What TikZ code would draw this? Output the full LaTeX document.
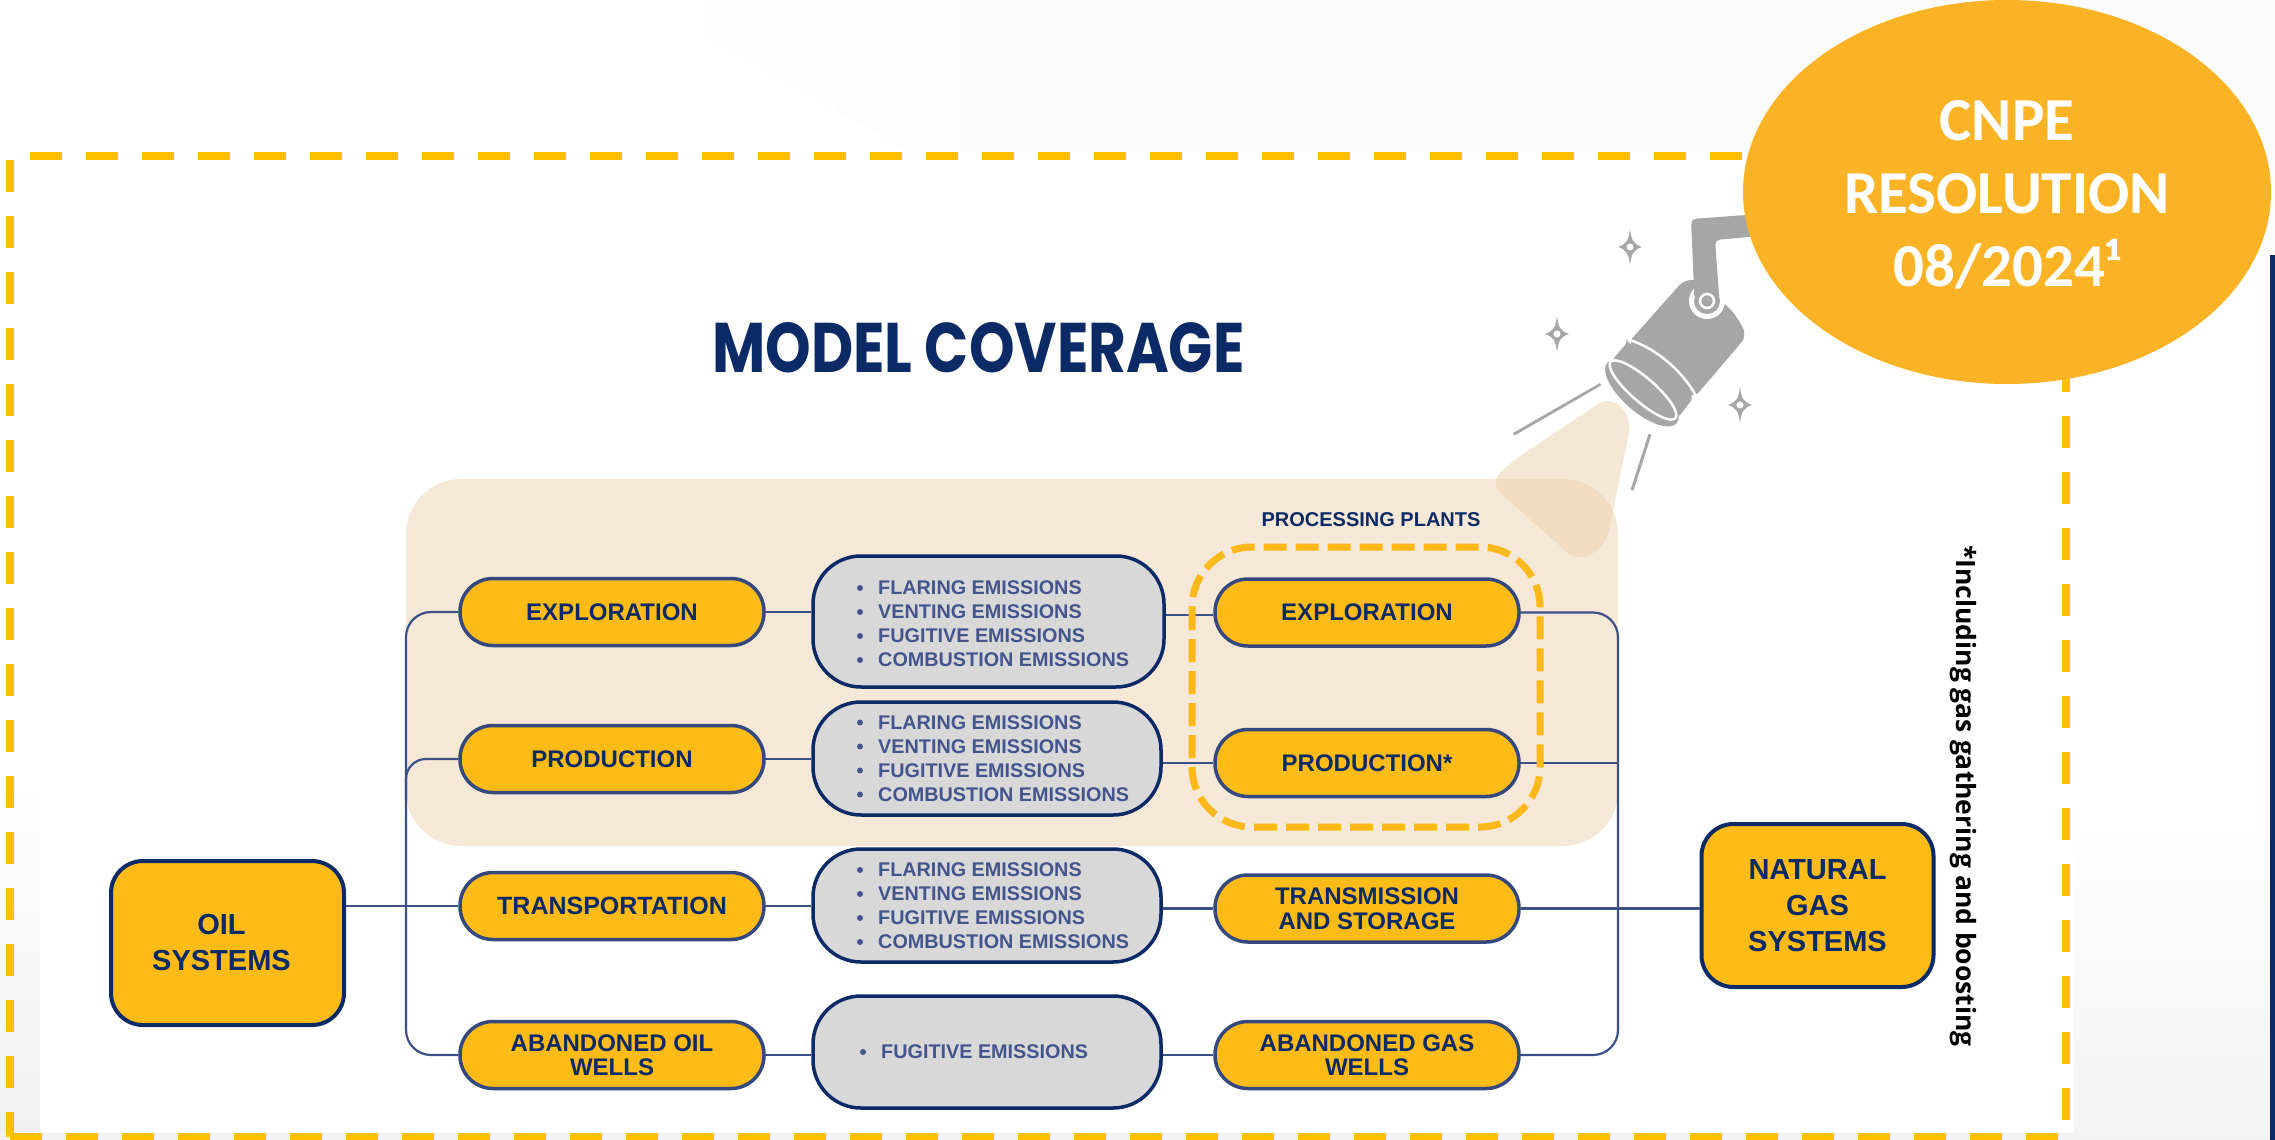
\documentclass[tikz,border=0pt]{standalone}
\usepackage{fontspec}
\usepackage{graphicx}
\usetikzlibrary{shapes.geometric,calc}
\setmainfont{Liberation Sans}
\newfontfamily\calib{Carlito}
\newfontfamily\popp{Poppins}
\newfontfamily\opens{Open Sans}
\definecolor{navy}{HTML}{0B2A66}
\definecolor{pilledge}{HTML}{35487E}
\definecolor{pillfill}{HTML}{FDBB17}
\definecolor{wire}{HTML}{3A5087}
\definecolor{frameyellow}{HTML}{FFC000}
\definecolor{plantyellow}{HTML}{FDB91C}
\definecolor{orangefill}{HTML}{FBB326}
\definecolor{tanpanel}{HTML}{F6E8D6}
\definecolor{boxgrey}{HTML}{D8D8D8}
\definecolor{emistext}{HTML}{43558C}
\definecolor{lampgrey}{HTML}{A6A6A6}
\definecolor{beamtone}{HTML}{EDD1AD}
\tikzset{
  x=1pt,y=-1pt,
  pillbox/.style={draw=pilledge,line width=3.5pt,fill=pillfill,rounded corners=33pt,minimum width=304pt,minimum height=67pt,inner sep=0pt,align=center,text=navy,font=\fontsize{24}{24.5}\selectfont\bfseries},
  sysbox/.style={draw=navy,line width=4pt,fill=pillfill,rounded corners=32pt,inner sep=0pt,align=center,text=navy,font=\fontsize{29}{36}\selectfont\bfseries},
  greybox/.style={draw=navy,line width=3.5pt,fill=boxgrey,rounded corners=48pt,inner sep=0pt},
  emis/.style={anchor=west,inner sep=0pt,text=emistext,font=\fontsize{19.8}{19.8}\selectfont\bfseries},
  bul/.style={circle,fill=emistext,inner sep=0pt,minimum size=6pt},
  wireline/.style={draw=wire,line width=2.2pt},
  framedash/.style={draw=frameyellow,line width=8pt,dash pattern=on 32pt off 24pt},
  lamp/.style={fill=lampgrey,draw=none},
}
\newcommand{\sparkle}[3]{%
  \fill[lampgrey] (#1,#2-18) .. controls (#1+1.5,#2-7) and (#1+3,#2-3) .. (#1+12,#2)
    .. controls (#1+3,#2+3) and (#1+1.5,#2+7) .. (#1,#2+18)
    .. controls (#1-1.5,#2+7) and (#1-3,#2+3) .. (#1-12,#2)
    .. controls (#1-3,#2-3) and (#1-1.5,#2-7) .. (#1,#2-18) -- cycle;
  \node[circle,fill=white,inner sep=0pt,minimum size=7pt] (#3) at (#1,#2) {};
}
\begin{document}
\begin{tikzpicture}
\useasboundingbox (0,0) rectangle (2275,1140);
% background
\fill[white] (0,0) rectangle (2275,1140);
\shade[left color=white,right color=white!98.5!black] (640,0) -- (1000,0) -- (1140,152) -- (910,152) -- cycle;
\fill[white!98.5!black] (1000,0) -- (1800,0) -- (1800,152) -- (1140,152) -- cycle;
\fill[white!99!black] (1800,0) rectangle (2275,255);
\shade[top color=white,bottom color=white!95!black] (2074,820) rectangle (2270,1140);
\shade[top color=white,bottom color=white!94!black] (0,780) rectangle (40,1140);
\fill[white!95!black] (0,1133) rectangle (2275,1140);
% navy edge
\fill[navy] (2270,255) rectangle (2275,1140);
% outer dashed frame
\coordinate (fTL) at (30,156);
\coordinate (fTR) at (1770,156);
\coordinate (fLT) at (10,160);
\coordinate (fLB) at (10,1137);
\coordinate (fBL) at (10,1137);
\coordinate (fBR) at (2060,1137);
\coordinate (fRT) at (2066,192);
\coordinate (fRB) at (2066,1128);
\draw[framedash] (fTL) -- (fTR);
\draw[framedash] (fLT) -- (fLB);
\draw[framedash] (fBL) -- (fBR);
\draw[framedash] (fRT) -- (fRB);
% tan panel
\fill[tanpanel,rounded corners=55pt] (406,479) rectangle (1618,846);
% beam
\fill[beamtone,fill opacity=.5,rounded corners=14pt] (1610,396) -- (1632,418) -- (1606,545) -- (1578,562) -- (1490,484) -- (1508,464) -- cycle;
% nodes
\node[sysbox,minimum width=233pt,minimum height=164pt] (oil) at (227.5,943) {\hspace*{-12pt}OIL\\\hspace*{-12pt}SYSTEMS};
\node[sysbox,minimum width=232pt,minimum height=163pt] (gas) at (1817.5,905.5) {NATURAL\\GAS\\SYSTEMS};
\node[pillbox] (l1) at (612,612) {EXPLORATION};
\node[pillbox] (l2) at (612,759) {PRODUCTION};
\node[pillbox] (l3) at (612,906) {\fontsize{25}{25}\selectfont TRANSPORTATION};
\node[pillbox] (l4) at (612,1055) {ABANDONED OIL\\WELLS};
\node[pillbox] (r1) at (1367,612.5) {EXPLORATION};
\node[pillbox] (r2) at (1367,763) {PRODUCTION*};
\node[pillbox] (r3) at (1367,908.5) {TRANSMISSION\\AND STORAGE};
\node[pillbox] (r4) at (1367,1055) {ABANDONED GAS\\WELLS};
\node[greybox,minimum width=351pt,minimum height=131pt] (g1) at (988.5,621.5) {};
\node[greybox,minimum width=348pt,minimum height=113pt] (g2) at (987,758.5) {};
\node[greybox,minimum width=348pt,minimum height=113pt] (g3) at (987,905.5) {};
\node[greybox,minimum width=348pt,minimum height=112pt] (g4) at (987,1052) {};
% connectors
\coordinate (busL) at (406,800);
\coordinate (busR) at (1618,800);
\draw[wireline,rounded corners=25pt] (l1.west) -- (l1.west -| busL) -- (l4.west -| busL) -- (l4.west);
\draw[wireline,rounded corners=20pt] (l2.west) -- (l2.west -| busL) -- (busL);
\draw[wireline] (l3.west -| oil.east) -- (l3.west);
\draw[wireline,rounded corners=25pt] (r1.east) -- (r1.east -| busR) -- (r4.east -| busR) -- (r4.east);
\draw[wireline] (r2.east) -- (r2.east -| busR);
\draw[wireline] (r3.east) -- (r3.east -| gas.west);
\draw[wireline] (l1.east) -- (l1.east -| g1.west);
\draw[wireline] (l2.east) -- (l2.east -| g2.west);
\draw[wireline] (l3.east) -- (l3.east -| g3.west);
\draw[wireline] (l4.east) -- (l4.east -| g4.west);
\draw[wireline] ([yshift=-2.5pt]r1.west) -- ([yshift=-2.5pt]r1.west -| g1.east);
\draw[wireline] (r2.west) -- (r2.west -| g2.east);
\draw[wireline] (r3.west) -- (r3.west -| g3.east);
\draw[wireline] (r4.west) -- (r4.west -| g4.east);
% processing plant outline
\draw[plantyellow,line width=7pt,dash pattern=on 23pt off 9pt,rounded corners=60pt] (1192,547) rectangle (1540,827);
\node[inner sep=0pt,text=navy,font=\fontsize{20}{20}\selectfont\bfseries] (pp) at (1371,520) {PROCESSING PLANTS};
% emission lists
\foreach \nm/\yy in {a/588,b/722.5,c/870}{
  \pgfmathsetmacro{\ya}{\yy}
  \pgfmathsetmacro{\yb}{\yy+24}
  \pgfmathsetmacro{\yc}{\yy+48}
  \pgfmathsetmacro{\yd}{\yy+72}
  \node[bul] (b\nm1) at (860,\ya) {};
  \node[bul] (b\nm2) at (860,\yb) {};
  \node[bul] (b\nm3) at (860,\yc) {};
  \node[bul] (b\nm4) at (860,\yd) {};
  \node[emis] (t\nm1) at (878,\ya) {FLARING EMISSIONS};
  \node[emis] (t\nm2) at (878,\yb) {VENTING EMISSIONS};
  \node[emis] (t\nm3) at (878,\yc) {FUGITIVE EMISSIONS};
  \node[emis] (t\nm4) at (878,\yd) {COMBUSTION EMISSIONS};
}
\node[bul] (bd1) at (863,1052) {};
\node[emis] (td1) at (881,1052) {FUGITIVE EMISSIONS};
% title
\node[inner sep=0pt,text=navy] (title) at (978.5,348) {\resizebox{532pt}{50pt}{\popp\bfseries MODEL COVERAGE}};
% footnote
\node[inner sep=0pt,rotate=-90,text=black] (fn) at (1963,796) {\resizebox{502pt}{!}{\opens\bfseries\fontsize{24}{24}\selectfont *Including gas gathering and boosting}};
% spotlight
\fill[lamp] (1513,433) -- (1600,383) -- (1601,385.5) -- (1514.5,435.5) -- cycle;
\fill[lamp] (1648.5,434) -- (1651.5,434.5) -- (1633.5,490.5) -- (1630.5,490) -- cycle;
\fill[lamp,rounded corners=7pt] (1684,280) -- (1628,343) -- (1694,398) -- (1746,337) .. controls (1742,325) and (1734,312) .. (1722,302) -- (1700,280) -- cycle;
\node[circle,fill=white,inner sep=0pt,minimum size=36pt] (pivotring) at (1707,301) {};
\fill[lamp,rounded corners=5pt] (1760,214) -- (1691,219) -- (1694.5,301) -- (1719.5,301) -- (1715,240) -- (1760,236) -- cycle;
\node[circle,fill=lampgrey,inner sep=0pt,minimum size=26pt] (pivot) at (1707,301) {};
\node[circle,fill=lampgrey,draw=white,line width=2.5pt,inner sep=0pt,minimum size=14pt] (pivoteye) at (1707,301) {};
\draw[white,line width=2.5pt,line cap=round] (1630,340) .. controls (1660,350) and (1685,375) .. (1696,396);
\fill[lamp,rounded corners=4pt] (1627,343) -- (1612,360) -- (1678,418) -- (1693,398) .. controls (1682,375) and (1655,352) .. cycle;
\node[ellipse,lamp,minimum width=92pt,minimum height=38pt,inner sep=0pt,rotate=-41] (lensouter) at (1642,393) {};
\node[ellipse,fill=lampgrey,draw=white,line width=2.5pt,minimum width=86pt,minimum height=24pt,inner sep=0pt,rotate=-41] (lens) at (1643,390) {};
\sparkle{1630}{247}{sa}
\sparkle{1557}{334}{sb}
\sparkle{1740}{405}{sc}
% badge
\node[ellipse,fill=orangefill,inner sep=0pt,minimum width=528pt,minimum height=384pt] (badge) at (2007,192) {};
\node[inner sep=0pt,align=center,text=white,font=\calib\fontsize{61}{73}\selectfont\bfseries] (badgetext) at (2007,195) {CNPE\\RESOLUTION\\08/2024¹};
\end{tikzpicture}
\end{document}
